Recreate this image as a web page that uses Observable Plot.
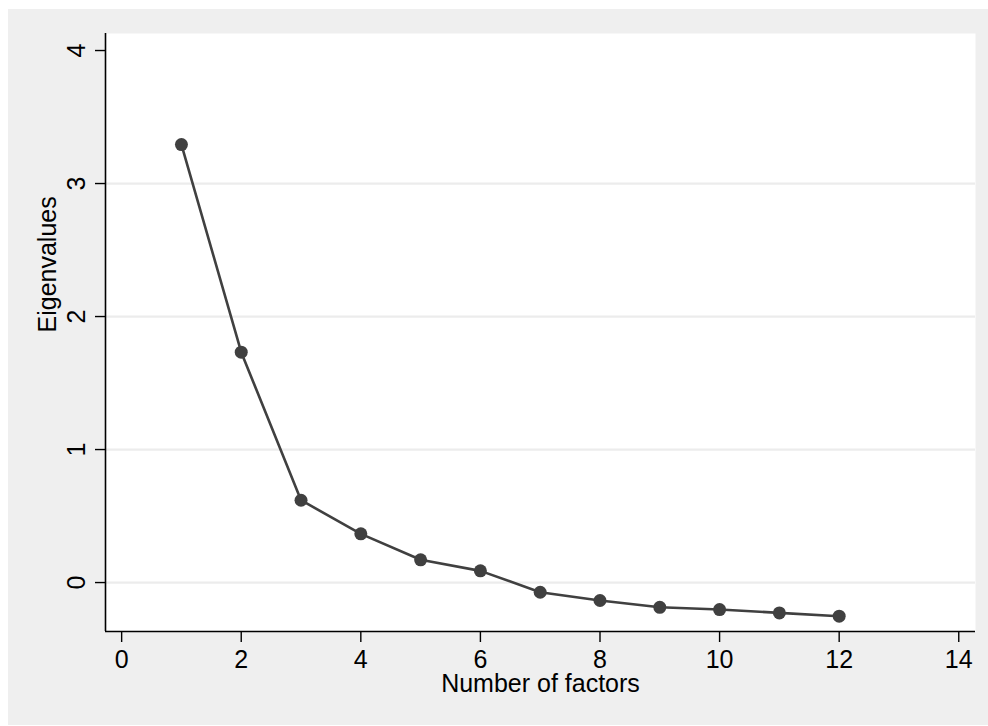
<!DOCTYPE html>
<html>
<head>
<meta charset="utf-8">
<script src="https://cdn.jsdelivr.net/npm/d3@7"></script>
<script src="https://cdn.jsdelivr.net/npm/@observablehq/plot@0.6"></script>
<style>
  html, body { margin: 0; padding: 0; background: #ffffff; }
  #chart { position: absolute; left: 8px; top: 9px; }
  #chart svg { background: #efefef; display: block; }
</style>
</head>
<body>
<div id="chart"></div>
<script>
const factors = [1, 2, 3, 4, 5, 6, 7, 8, 9, 10, 11, 12];
const eigenvalues = [3.293, 1.732, 0.619, 0.366, 0.171, 0.088, -0.073, -0.135, -0.186, -0.203, -0.228, -0.253];
const xTicks = [0, 2, 4, 6, 8, 10, 12, 14];
const yTicks = [0, 1, 2, 3, 4];
const gridValues = [0, 1, 2, 3];
const xLabel = "Number of factors";
const yLabel = "Eigenvalues";

const data = factors.map((f, i) => ({factor: f, value: eigenvalues[i]}));
const xDomain = [-0.27, 14.28];
const yDomain = [-0.368, 4.128];
const font = "'Liberation Sans', Arial, sans-serif";
const ink = "#404040";

const chart = Plot.plot({
  width: 980,
  height: 716,
  marginLeft: 97,
  marginRight: 13,
  marginTop: 24,
  marginBottom: 94,
  style: {fontFamily: font, fontSize: "25px", color: "#000", background: "#efefef"},
  x: {domain: xDomain, label: null},
  y: {domain: yDomain, label: null},
  marks: [
    Plot.frame({fill: "white", stroke: "none"}),
    Plot.ruleY(gridValues, {stroke: "#ececec", strokeWidth: 2.2}),
    Plot.ruleX([xDomain[0]], {stroke: "#000", strokeWidth: 1.6}),
    Plot.ruleY([yDomain[0]], {stroke: "#000", strokeWidth: 1.6}),
    Plot.axisX({ticks: xTicks, tickSize: 11, tickPadding: 8, fontSize: 25, stroke: "#000", strokeWidth: 1.4, label: null}),
    Plot.axisY({ticks: yTicks, tickSize: 10, tickFormat: () => "", stroke: "#000", strokeWidth: 1.4, label: null}),
    Plot.text(yTicks, {y: d => d, text: d => String(d), frameAnchor: "left", dx: -28.5, rotate: -90, textAnchor: "middle", lineAnchor: "middle", fontSize: 25, fill: "#000"}),
    Plot.text([xLabel], {text: d => d, frameAnchor: "bottom", dy: 52, lineAnchor: "middle", fontSize: 25, fill: "#000"}),
    Plot.text([yLabel], {text: d => d, frameAnchor: "left", dx: -57.5, rotate: -90, lineAnchor: "middle", fontSize: 25, fill: "#000"}),
    Plot.line(data, {x: "factor", y: "value", stroke: ink, strokeWidth: 2.6}),
    Plot.dot(data, {x: "factor", y: "value", r: 6.5, fill: ink, stroke: "none"})
  ]
});
document.getElementById("chart").appendChild(chart);
</script>
</body>
</html>
